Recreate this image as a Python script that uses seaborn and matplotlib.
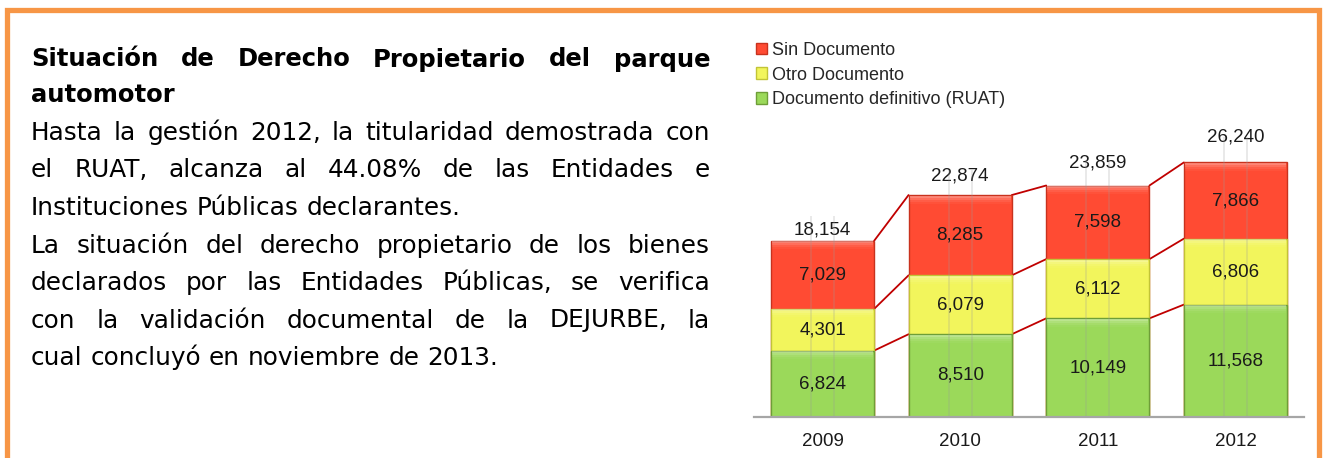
import matplotlib
matplotlib.use("Agg")
import matplotlib.pyplot as plt
import seaborn as sns
import pandas as pd
import numpy as np
from matplotlib.patches import Rectangle, Patch

# ---------------- data ----------------
years = ["2009", "2010", "2011", "2012"]
ruat = [6824, 8510, 10149, 11568]          # Documento definitivo (RUAT)
otro = [4301, 6079, 6112, 6806]            # Otro Documento
sin_doc = [7029, 8285, 7598, 7866]         # Sin Documento
totals = [18154, 22874, 23859, 26240]

legend_labels = ["Sin Documento", "Otro Documento", "Documento definitivo (RUAT)"]

title_lines = ["Situación de Derecho Propietario del parque", "automotor"]
para1 = ["Hasta la gestión 2012, la titularidad demostrada con",
         "el RUAT, alcanza al 44.08% de las Entidades e",
         "Instituciones Públicas declarantes."]
para2 = ["La situación del derecho propietario de los bienes",
         "declarados por las Entidades Públicas, se verifica",
         "con la validación documental de la DEJURBE, la",
         "cual concluyó en noviembre de 2013."]

# ---------------- style ----------------
sns.set_style("white")
plt.rcParams["font.family"] = ["DejaVu Sans"]

RED, YEL, GRN = "#FF4B33", "#F2F55C", "#9BD95A"
RED_E, YEL_E, GRN_E = "#C8321E", "#C2C436", "#6E9E38"
LINE = "#C00000"
ORANGE = "#F79646"
total_offsets_pt = [8, 13.5, 16.5, 18]   # label placement above each bar

W, H = 1323, 458
fig = plt.figure(figsize=(W / 100, H / 100), dpi=100)
fig.patch.set_facecolor("white")

# orange frame
fig.patches.append(Rectangle((6.5 / W, -0.1), (1318.5 - 6.5) / W, 1.1 - 9.8 / H,
                             transform=fig.transFigure, fill=False,
                             edgecolor=ORANGE, linewidth=3.8, zorder=0))

# ---------------- chart ----------------
ax_left, ax_right = 753.7, 1304.3
base_y = 416.7
px_per_unit = 0.00969
ymax = 30000
ax = fig.add_axes([ax_left / W, (H - base_y) / H, (ax_right - ax_left) / W,
                   ymax * px_per_unit / H])

df = pd.DataFrame({"year": years, "ruat": ruat, "otro": otro, "sin": sin_doc})
df["c1"] = df["ruat"]
df["c2"] = df["ruat"] + df["otro"]
df["c3"] = df["c2"] + df["sin"]

bw = 0.75
sns.barplot(data=df, x="year", y="c3", color=RED, saturation=1, width=bw,
            edgecolor=RED_E, linewidth=1.0, ax=ax, zorder=2)
sns.barplot(data=df, x="year", y="c2", color=YEL, saturation=1, width=bw,
            edgecolor=YEL_E, linewidth=1.0, ax=ax, zorder=3)
sns.barplot(data=df, x="year", y="c1", color=GRN, saturation=1, width=bw,
            edgecolor=GRN_E, linewidth=1.0, ax=ax, zorder=4)

ax.set_xlim(-0.5, len(years) - 0.5)
ax.set_ylim(0, ymax)

# soft bevel highlight at the top of each segment
xs = np.arange(len(years))
band = 2 / px_per_unit
for hi_col in ["c1", "c2", "c3"]:
    tops = df[hi_col].values
    for k, a in enumerate([0.32, 0.2, 0.1, 0.04]):
        ax.bar(xs, band, bottom=tops - (k + 1) * band - 0.6 / px_per_unit,
               width=bw * 0.975, color="white", alpha=a, linewidth=0, zorder=4.5)

# faint vertical streaks inside bars
for i in range(len(years)):
    for dx in (-0.084, 0.084):
        ax.plot([i + dx, i + dx], [0, df["c3"][i] + 2600], color="#9A9A9A",
                alpha=0.22, lw=1.4, zorder=5, solid_capstyle="butt")

# series lines
for col in ["c1", "c2", "c3"]:
    for i in range(len(years) - 1):
        ax.plot([i + bw / 2, i + 1 - bw / 2], [df[col][i], df[col][i + 1]],
                color=LINE, lw=1.3, zorder=1)

# labels
for i in range(len(years)):
    lows = [0, df["c1"][i], df["c2"][i]]
    vals = [ruat[i], otro[i], sin_doc[i]]
    for lo, v in zip(lows, vals):
        ax.text(i, lo + v / 2, f"{v:,}", ha="center", va="center",
                fontsize=13.5, family="Liberation Sans", color="#1A1A1A", zorder=6)
    ax.annotate(f"{totals[i]:,}", (i, df["c3"][i]), xytext=(0, total_offsets_pt[i]),
                textcoords="offset points", ha="center", va="center",
                fontsize=13.5, family="Liberation Sans", color="#1A1A1A")

for s in ["top", "left", "right"]:
    ax.spines[s].set_visible(False)
ax.spines["bottom"].set_color("#A6A6A6")
ax.spines["bottom"].set_linewidth(1.6)
ax.spines["bottom"].set_zorder(7)
ax.set_yticks([])
ax.set_xlabel("")
ax.set_ylabel("")
ax.tick_params(axis="x", length=0, pad=12, labelsize=13.5)
for t in ax.get_xticklabels():
    t.set_family("Liberation Sans")
    t.set_color("#1A1A1A")
ax.patch.set_alpha(0)

handles = [Patch(facecolor=RED, edgecolor=RED_E),
           Patch(facecolor=YEL, edgecolor=YEL_E),
           Patch(facecolor=GRN, edgecolor=GRN_E)]
leg = fig.legend(handles, legend_labels, loc="upper left",
                 bbox_to_anchor=(756 / W, 1 - 42 / H), frameon=False,
                 prop={"family": "Liberation Sans", "size": 13},
                 handlelength=0.6, handleheight=0.6, handletextpad=0.3,
                 labelspacing=0.42, borderpad=0, borderaxespad=0)

# ---------------- justified text ----------------
renderer = fig.canvas.get_renderer()
X0, X1 = 31, 710


def place_line(line, y_base, size, weight, justify):
    words = line.split(" ")
    texts = [fig.text(0, 1 - y_base / H, w, fontsize=size, fontweight=weight,
                      ha="left", va="baseline", color="black") for w in words]
    widths = [t.get_window_extent(renderer).width for t in texts]
    a = fig.text(0, 0, "a a", fontsize=size, fontweight=weight)
    b = fig.text(0, 0, "aa", fontsize=size, fontweight=weight)
    sw = a.get_window_extent(renderer).width - b.get_window_extent(renderer).width
    a.remove()
    b.remove()
    if justify and len(words) > 1:
        gap = (X1 - X0 - sum(widths)) / (len(words) - 1)
    else:
        gap = sw
    x = X0
    for t, w in zip(texts, widths):
        t.set_x(x / W)
        x += w + gap


place_line(title_lines[0], 66.5, 17.5, "bold", True)
place_line(title_lines[1], 101.5, 17.5, "bold", False)
ys = [140, 177.5, 215, 252.5, 290, 327.5, 365]
lines = para1 + para2
just = [True, True, False, True, True, True, False]
for ln, yb, j in zip(lines, ys, just):
    place_line(ln, yb, 17.8, "normal", j)

fig.savefig("out.png", dpi=100, facecolor="white")
